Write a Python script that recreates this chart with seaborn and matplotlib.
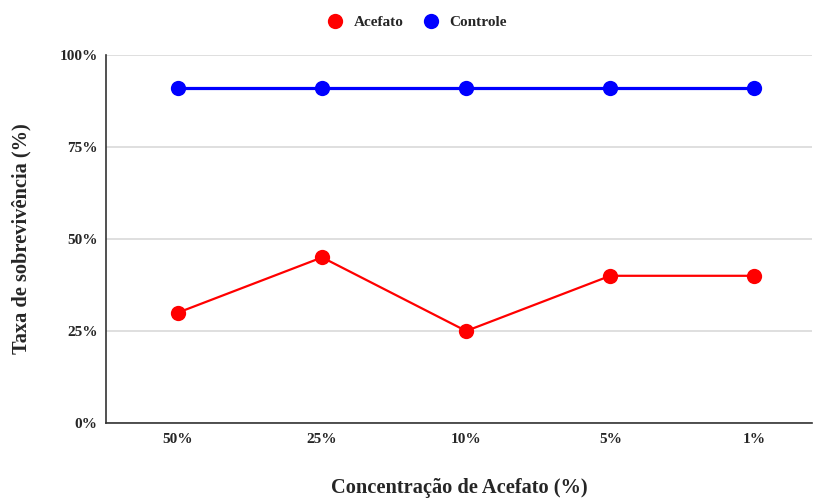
import pandas as pd
import matplotlib
matplotlib.use('Agg')
import matplotlib.pyplot as plt
from matplotlib.lines import Line2D
from matplotlib.ticker import PercentFormatter
import seaborn as sns

# Data
concentracoes = ['50%', '25%', '10%', '5%', '1%']
acefato = [30, 45, 25, 40, 40]
controle = [91, 91, 91, 91, 91]

df = pd.DataFrame({
    'Concentração': concentracoes * 2,
    'Taxa': acefato + controle,
    'Grupo': ['Acefato'] * len(acefato) + ['Controle'] * len(controle),
})

sns.set_style('white')
plt.rcParams['font.family'] = ['Liberation Serif', 'DejaVu Serif']
plt.rcParams['font.weight'] = 'bold'

cores = {'Acefato': '#ff0000', 'Controle': '#0000ff'}

fig = plt.figure(figsize=(8.14, 4.98), dpi=100)
ax = fig.add_axes([0.1302, 0.1506, 0.8673, 0.739])

for grupo, lw in [('Acefato', 1.6), ('Controle', 2.3)]:
    sub = df[df['Grupo'] == grupo]
    sns.lineplot(data=sub, x='Concentração', y='Taxa', color=cores[grupo],
                 marker='o', markersize=11, markeredgewidth=0, linewidth=lw,
                 sort=False, ax=ax, legend=False)

ax.set_ylim(0, 100)
ax.set_xlim(-0.5, 4.4)
ax.set_yticks([0, 25, 50, 75, 100])
ax.yaxis.set_major_formatter(PercentFormatter(decimals=0))
ax.grid(axis='y', color='#d9d9d9', linewidth=1.2)
ax.set_axisbelow(True)
for s in ['top', 'right']:
    ax.spines[s].set_visible(False)
for s in ['left', 'bottom']:
    ax.spines[s].set_color('#333333')
    ax.spines[s].set_linewidth(1.2)

ax.tick_params(axis='both', length=0, labelsize=11)
for lab in ax.get_xticklabels() + ax.get_yticklabels():
    lab.set_fontweight('bold')
ax.tick_params(axis='y', pad=6)
ax.tick_params(axis='x', pad=7)

ax.set_xlabel('Concentração de Acefato (%)', fontsize=14.7, fontweight='bold', labelpad=23)
ax.set_ylabel('Taxa de sobrevivência (%)', fontsize=14.7, fontweight='bold', labelpad=20)

handles = [Line2D([0], [0], marker='o', linestyle='none', markersize=11,
                  markerfacecolor=cores[g], markeredgewidth=0, label=g)
           for g in ['Acefato', 'Controle']]
fig.legend(handles=handles, loc='center', bbox_to_anchor=(0.508, 0.955), ncol=2,
           frameon=False, prop={'weight': 'bold', 'size': 11},
           handletextpad=0.2, columnspacing=0.8)

fig.savefig('out.png', dpi=100)
